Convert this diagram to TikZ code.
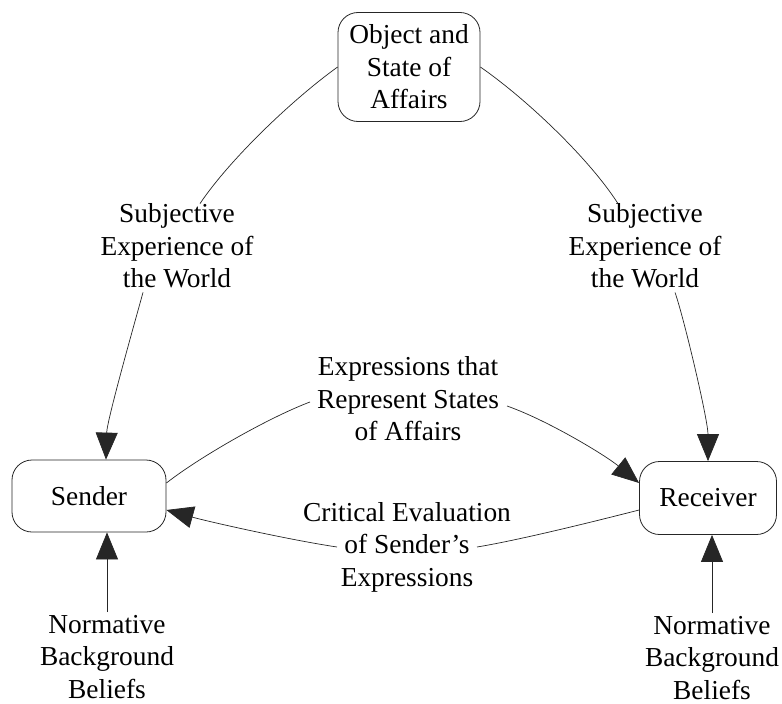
\documentclass[tikz,border=0pt]{standalone}
\usepackage{fontspec}
\setmainfont{Liberation Serif}
\usetikzlibrary{arrows.meta}
\begin{document}
\begin{tikzpicture}[x=1pt,y=-1pt,
  txt/.style={font=\fontsize{27.4}{32.5}\selectfont},
  box/.style={txt, draw=black!85, line width=0.8pt, rounded corners=20pt, align=center, inner sep=0pt},
  lbl/.style={txt, align=center, inner sep=0pt},
  conn/.style={draw=black!85, line width=0.7pt},
  arr/.style={conn, -{Triangle[length=27pt,width=22pt]}}]
\useasboundingbox (0,0) rectangle (782,704);

\node[box, minimum width=142pt, minimum height=109pt] (obj) at (409,67) {Object and\\State of\\Affairs};
\node[box, minimum width=154pt, minimum height=72pt] (snd) at (89,496) {Sender};
\node[box, minimum width=137pt, minimum height=73pt] (rcv) at (708,498) {Receiver};

\node[lbl] (ls) at (177,246) {Subjective\\Experience of\\the World};
\node[lbl] (rs) at (645,246) {Subjective\\Experience of\\the World};
\node[lbl] (ex) at (408,399) {Expressions that\\Represent States\\of Affairs};
\node[lbl] (cr) at (407,547) {Critical Evaluation\\of Sender's\\Expressions};
\node[lbl] (nl) at (107,657) {Normative\\Background\\Beliefs};
\node[lbl] (nr) at (712,658) {Normative\\Background\\Beliefs};

% top to sender via left label
\draw[conn] (obj.west) .. controls (293,99) and (230,159) .. ([xshift=23pt]ls.north);
\draw[arr] ([xshift=-34pt,yshift=-4pt]ls.south) .. controls (136,318) and (107,420) .. ([xshift=17pt]snd.north);

% top to receiver via right label
\draw[conn] (obj.east) .. controls (525,98) and (588,157) .. ([xshift=-27pt]rs.north);
\draw[arr] ([xshift=30pt,yshift=-4pt]rs.south) .. controls (684,318) and (708,420) .. (rcv.north);

% expressions
\draw[conn] ([yshift=13pt]snd.east) .. controls (201,456) and (270,417) .. ([xshift=-98pt,yshift=-3pt]ex.center);
\draw[arr] ([xshift=99pt,yshift=-7pt]ex.center) .. controls (547,420) and (605,455) .. ([yshift=15pt]rcv.west);

% critical evaluation
\draw[conn] ([yshift=-12pt]rcv.west) .. controls (600,520) and (520,540) .. ([xshift=70pt]cr.center);
\draw[arr] ([xshift=-70pt]cr.center) .. controls (290,540) and (210,522) .. ([yshift=-14pt]snd.east);

% normative background beliefs
\draw[arr] ([yshift=3pt]nl.north) -- ([xshift=18pt]snd.south);
\draw[arr] ([yshift=3pt]nr.north) -- ([xshift=4pt]rcv.south);
\end{tikzpicture}
\end{document}
